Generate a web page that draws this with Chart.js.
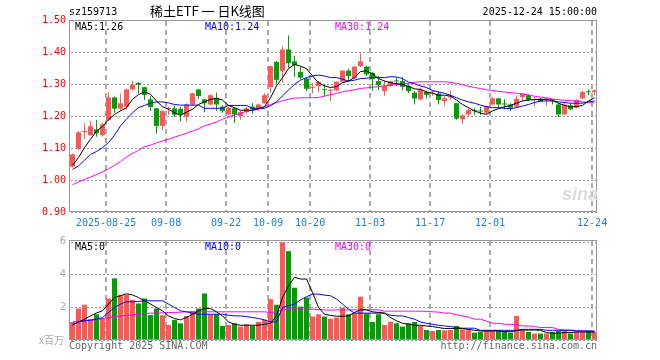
<!DOCTYPE html>
<html>
<head>
<meta charset="utf-8">
<script src="https://cdn.jsdelivr.net/npm/chart.js@4.4.1/dist/chart.umd.min.js"></script>
<style>
  body { margin: 0; background: #fff; width: 660px; height: 360px; overflow: hidden; position: relative; }
  canvas { position: absolute; left: 0; }
  #kline { top: 0; }
  #vol { top: 230px; }
  .t { position: absolute; font: 10px/12px "DejaVu Sans Mono", monospace; white-space: nowrap; }
  .cjk { font-family: "Noto Sans CJK SC", sans-serif; }
</style>
</head>
<body>
<canvas id="kline" width="660" height="232"></canvas>
<canvas id="vol" width="660" height="130"></canvas>

<div class="t" style="left:69px;top:6px;color:#000">sz159713</div>
<div class="t cjk" style="left:150px;top:3px;font-size:13px;line-height:16px;color:#000">稀土ETF 一 日K线图</div>
<div class="t" style="right:63px;top:6px;color:#000">2025-12-24 15:00:00</div>

<div class="t" style="left:75px;top:21px;color:#000">MA5:1.26</div>
<div class="t" style="left:205px;top:21px;color:#0000ff">MA10:1.24</div>
<div class="t" style="left:335px;top:21px;color:#ff00ff">MA30:1.24</div>

<div class="t" style="left:75px;top:241px;color:#000">MA5:0</div>
<div class="t" style="left:205px;top:241px;color:#0000ff">MA10:0</div>
<div class="t" style="left:335px;top:241px;color:#ff00ff">MA30:0</div>

<div class="t cjk" style="left:39px;top:334px;color:#aaa">x百万</div>
<div class="t" style="left:69px;top:340px;color:#666">Copyright 2025 SINA.COM</div>
<div class="t" style="right:63px;top:340px;color:#666">http://finance.sina.com.cn</div>
<div class="t" style="left:562px;top:184px;font:italic bold 18px/20px 'Liberation Sans',sans-serif;color:#dcdcdc">sina</div>

<script>
// daily candles, 2025-08-15 .. 2025-12-24
const opens = [1.042,1.098,1.150,1.140,1.158,1.140,1.188,1.258,1.223,1.229,1.283,1.303,1.290,1.252,1.224,1.169,1.222,1.224,1.222,1.198,
  1.236,1.283,1.252,1.236,1.257,1.229,1.205,1.224,1.200,1.212,1.229,1.221,1.240,1.291,1.369,1.341,1.408,1.371,1.338,1.317,
  1.288,1.294,1.283,1.279,1.280,1.307,1.342,1.318,1.356,1.354,1.335,1.309,1.278,1.294,1.310,1.309,1.294,1.273,1.252,1.275,
  1.274,1.270,1.247,1.258,1.240,1.190,1.205,1.217,1.217,1.210,1.236,1.255,1.238,1.236,1.229,1.259,1.265,1.250,1.254,1.251,
  1.251,1.236,1.205,1.233,1.226,1.255,1.276,1.275];
const highs = [1.083,1.152,1.177,1.184,1.188,1.177,1.275,1.261,1.270,1.286,1.310,1.306,1.291,1.262,1.225,1.218,1.229,1.233,1.228,1.240,
  1.273,1.284,1.254,1.268,1.273,1.233,1.229,1.226,1.216,1.229,1.240,1.239,1.271,1.358,1.372,1.417,1.452,1.388,1.354,1.320,
  1.302,1.309,1.299,1.285,1.308,1.344,1.348,1.356,1.396,1.358,1.337,1.325,1.312,1.310,1.320,1.320,1.299,1.278,1.289,1.280,
  1.280,1.278,1.262,1.280,1.241,1.205,1.224,1.226,1.228,1.233,1.259,1.256,1.252,1.240,1.265,1.271,1.268,1.260,1.257,1.257,
  1.252,1.240,1.240,1.240,1.252,1.278,1.283,1.283];
const lows = [1.039,1.094,1.127,1.138,1.135,1.136,1.184,1.210,1.218,1.220,1.280,1.270,1.250,1.216,1.145,1.155,1.204,1.198,1.184,1.183,
  1.232,1.254,1.212,1.233,1.216,1.210,1.202,1.177,1.188,1.207,1.207,1.216,1.238,1.273,1.301,1.304,1.351,1.323,1.315,1.278,
  1.271,1.275,1.263,1.247,1.277,1.304,1.309,1.315,1.352,1.325,1.280,1.281,1.263,1.292,1.294,1.280,1.271,1.236,1.250,1.255,
  1.263,1.236,1.233,1.250,1.188,1.174,1.200,1.202,1.203,1.205,1.233,1.226,1.221,1.216,1.226,1.247,1.247,1.231,1.244,1.231,
  1.236,1.197,1.204,1.218,1.224,1.252,1.265,1.265];
const closes = [1.080,1.149,1.152,1.168,1.146,1.174,1.258,1.223,1.240,1.283,1.298,1.298,1.266,1.228,1.169,1.215,1.223,1.204,1.205,1.236,
  1.271,1.262,1.240,1.265,1.236,1.216,1.226,1.205,1.212,1.224,1.221,1.236,1.265,1.356,1.313,1.408,1.365,1.359,1.320,1.285,
  1.290,1.306,1.281,1.281,1.307,1.342,1.325,1.354,1.371,1.330,1.315,1.297,1.294,1.309,1.308,1.291,1.278,1.255,1.283,1.266,
  1.276,1.250,1.255,1.260,1.192,1.202,1.219,1.215,1.214,1.231,1.255,1.236,1.236,1.226,1.254,1.270,1.250,1.252,1.244,1.252,
  1.249,1.205,1.236,1.221,1.250,1.275,1.274,1.280];

const ma5 = [1.046,1.070,1.101,1.127,1.153,1.167,1.188,1.205,1.216,1.226,1.252,1.267,1.275,1.268,1.247,1.229,1.221,1.210,1.202,1.212,
  1.221,1.236,1.244,1.252,1.255,1.250,1.233,1.226,1.218,1.218,1.218,1.223,1.229,1.257,1.294,1.320,1.348,1.361,1.356,1.348,
  1.325,1.304,1.294,1.289,1.292,1.304,1.309,1.320,1.339,1.341,1.332,1.317,1.309,1.304,1.301,1.299,1.292,1.285,1.283,1.275,
  1.271,1.265,1.265,1.262,1.250,1.236,1.226,1.216,1.209,1.205,1.216,1.223,1.229,1.233,1.240,1.247,1.250,1.251,1.252,1.252,
  1.249,1.240,1.233,1.229,1.229,1.233,1.247,1.257];
const ma10 = [1.033,1.044,1.062,1.080,1.089,1.101,1.117,1.140,1.169,1.190,1.210,1.226,1.233,1.240,1.244,1.244,1.241,1.236,1.234,1.234,
  1.234,1.234,1.224,1.224,1.224,1.224,1.233,1.233,1.233,1.233,1.224,1.224,1.224,1.232,1.244,1.263,1.281,1.299,1.312,1.320,
  1.325,1.328,1.325,1.320,1.320,1.315,1.309,1.312,1.317,1.318,1.320,1.320,1.320,1.323,1.322,1.317,1.306,1.301,1.294,1.289,
  1.280,1.275,1.271,1.265,1.257,1.250,1.244,1.240,1.234,1.229,1.226,1.226,1.224,1.223,1.226,1.231,1.236,1.242,1.247,1.247,
  1.247,1.244,1.242,1.240,1.240,1.240,1.244,1.247];
const ma30 = [0.985,0.994,1.002,1.009,1.017,1.025,1.035,1.046,1.058,1.072,1.083,1.093,1.104,1.109,1.116,1.122,1.127,1.134,1.140,1.146,
  1.153,1.160,1.169,1.175,1.181,1.190,1.197,1.203,1.208,1.215,1.218,1.221,1.229,1.236,1.242,1.248,1.252,1.256,1.257,1.257,
  1.257,1.258,1.262,1.267,1.270,1.276,1.279,1.282,1.286,1.288,1.290,1.292,1.294,1.296,1.298,1.300,1.302,1.305,1.307,1.307,
  1.307,1.307,1.307,1.305,1.302,1.298,1.293,1.289,1.286,1.282,1.280,1.277,1.275,1.273,1.271,1.269,1.265,1.262,1.259,1.257,
  1.253,1.251,1.249,1.248,1.247,1.244,1.243,1.243];

// volume in millions
const volumes = [1.10,1.92,2.15,1.27,1.57,1.33,2.53,3.76,2.76,2.76,2.45,2.23,2.53,1.53,1.92,1.51,0.92,1.23,1.02,1.47,
  1.76,1.92,2.84,1.55,1.59,0.86,0.92,1.02,0.82,0.96,0.86,1.10,1.23,2.49,2.15,5.97,5.42,3.19,2.04,2.59,
  1.43,1.57,1.43,1.30,1.37,1.98,1.57,1.63,2.64,1.63,1.10,1.57,0.92,1.12,1.02,0.82,1.02,1.10,0.86,0.61,
  0.55,0.61,0.59,0.61,0.86,0.65,0.65,0.45,0.49,0.55,0.55,0.55,0.55,0.45,1.47,0.59,0.49,0.39,0.39,0.39,
  0.49,0.55,0.59,0.39,0.49,0.49,0.55,0.49];
const volMa5 = [0.90,1.10,1.27,1.47,1.65,1.78,2.19,2.59,2.70,2.82,2.75,2.59,2.39,2.19,1.98,1.78,1.47,1.31,1.23,1.37,
  1.57,1.78,1.92,1.92,1.72,1.47,1.10,0.96,0.90,0.90,0.90,0.90,0.96,1.02,1.47,2.59,3.31,3.82,3.72,3.72,
  2.90,1.98,1.57,1.50,1.45,1.45,1.47,1.68,1.84,1.84,1.72,1.68,1.64,1.37,1.17,1.02,0.96,0.90,0.90,0.86,
  0.82,0.76,0.70,0.70,0.70,0.70,0.65,0.59,0.55,0.55,0.55,0.55,0.51,0.51,0.57,0.61,0.61,0.61,0.59,0.45,
  0.41,0.41,0.45,0.45,0.49,0.49,0.49,0.49];
const volMa10 = [0.96,1.10,1.17,1.21,1.27,1.37,1.68,1.98,2.19,2.33,2.33,2.35,2.39,2.39,2.39,2.39,2.19,1.98,1.78,1.72,
  1.64,1.57,1.57,1.57,1.57,1.57,1.51,1.47,1.47,1.43,1.37,1.31,1.23,1.10,1.10,1.98,2.09,2.19,2.45,2.64,
  2.80,2.80,2.74,2.70,2.50,2.19,1.88,1.64,1.64,1.64,1.64,1.64,1.64,1.51,1.47,1.47,1.37,1.27,1.10,1.02,
  0.96,0.90,0.86,0.82,0.76,0.72,0.72,0.72,0.59,0.59,0.59,0.59,0.59,0.59,0.59,0.65,0.65,0.65,0.65,0.59,
  0.59,0.59,0.59,0.59,0.55,0.55,0.55,0.53];
const volMa30 = [1.10,1.14,1.17,1.20,1.23,1.30,1.37,1.42,1.47,1.50,1.53,1.57,1.60,1.64,1.64,1.66,1.68,1.68,1.70,1.72,
  1.72,1.72,1.72,1.72,1.72,1.72,1.72,1.72,1.72,1.72,1.72,1.72,1.72,1.68,1.72,1.84,1.90,1.90,1.90,1.88,
  1.88,1.86,1.84,1.82,1.84,1.84,1.84,1.84,1.84,1.84,1.84,1.84,1.76,1.76,1.76,1.76,1.76,1.76,1.76,1.74,
  1.72,1.70,1.64,1.64,1.55,1.47,1.40,1.27,1.27,1.15,1.02,1.02,0.96,0.96,0.92,0.86,0.86,0.82,0.76,0.76,
  0.76,0.65,0.61,0.61,0.58,0.55,0.55,0.55];

const dateIdx = [6, 16, 26, 33, 40, 50, 60, 70, 87];
const dateLabels = ['2025-08-25', '09-08', '09-22', '10-09', '10-20', '11-03', '11-17', '12-01', '12-24'];
const priceTicks = [0.9, 1.0, 1.1, 1.2, 1.3, 1.4, 1.5];
const volTicks = [0, 2, 4, 6];

const RED = '#ff5656';
const GREEN = '#009f00';
const n = closes.length;
const colors = closes.map((c, i) => c >= opens[i] ? RED : GREEN);
const pts = arr => arr.map((v, i) => ({x: i, y: v}));

// dotted price lines and dashed date lines at the scales' ticks, drawn piece by piece
const gridLines = {
  id: 'gridLines',
  beforeDatasetsDraw(chart) {
    const {ctx, chartArea: a, scales: {x, y}} = chart;
    const left = Math.round(a.left), right = Math.round(a.right);
    const top = Math.round(a.top), bottom = Math.round(a.bottom);
    ctx.save();
    ctx.fillStyle = '#999';
    y.ticks.forEach(t => {
      const py = Math.round(y.getPixelForValue(t.value));
      for (let px = left + 2; px < right - 1; px += 4) ctx.fillRect(px, py, 2, 1);
    });
    ctx.fillStyle = '#aaa';
    x.ticks.forEach(t => {
      const px = Math.round(x.getPixelForValue(t.value));
      for (let py = top + 1; py < bottom; py += 9) ctx.fillRect(px - 1, py, 2, Math.min(5, bottom - py));
    });
    ctx.restore();
  },
  // grey box round the plot
  afterDatasetsDraw(chart) {
    const {ctx, chartArea: a} = chart;
    ctx.save();
    ctx.strokeStyle = '#999';
    ctx.lineWidth = 1;
    ctx.strokeRect(Math.round(a.left) + 0.5, Math.round(a.top) + 0.5, Math.round(a.width) - 1, Math.round(a.height) - 1);
    ctx.restore();
  }
};

function xAxis(showLabels) {
  return {
    type: 'linear',
    min: -0.5 - 1 / 12,
    max: n - 0.5 - 1 / 12,
    offset: false,
    afterBuildTicks: s => { s.ticks = dateIdx.map(v => ({value: v - 0.4})); },
    afterFit: s => { s.height = 20; },
    grid: {display: false, drawTicks: false},
    border: {display: false},
    ticks: {
      display: showLabels, autoSkip: false, maxRotation: 0, padding: 5,
      color: '#1a7fd4', font: {family: 'DejaVu Sans Mono', size: 10},
      callback: (v, i) => dateLabels[i]
    }
  };
}

function maLine(data, color) {
  return {type: 'line', data: pts(data), borderColor: color, borderWidth: 1, pointRadius: 0, tension: 0, order: 0};
}

const common = {
  responsive: false,
  animation: false,
  events: [],
  plugins: {legend: {display: false}, tooltip: {enabled: false}}
};

new Chart(document.getElementById('kline'), {
  type: 'bar',
  data: {
    datasets: [
      maLine(ma5, '#000000'),
      maLine(ma10, '#0000ff'),
      maLine(ma30, '#ff00ff'),
      {
        data: opens.map((o, i) => ({x: i, y: [o, closes[i]]})),
        backgroundColor: colors, barThickness: 5, minBarLength: 1,
        grouped: false, inflateAmount: 0, borderWidth: 0, order: 1
      },
      {
        data: lows.map((l, i) => ({x: i, y: [l, highs[i]]})),
        backgroundColor: colors, barThickness: 1,
        grouped: false, inflateAmount: 0, borderWidth: 0, order: 2
      }
    ]
  },
  options: {
    ...common,
    layout: {padding: {left: 0, right: 63, top: 20, bottom: 0}},
    scales: {
      x: xAxis(true),
      y: {
        min: 0.9, max: 1.5, beginAtZero: false,
        afterBuildTicks: s => { s.ticks = priceTicks.map(v => ({value: v})); },
        afterFit: s => { s.width = 69; },
        grid: {display: false, drawTicks: false},
        border: {display: false},
        ticks: {padding: 3, color: '#ff0000', font: {family: 'DejaVu Sans Mono', size: 10}, callback: v => v.toFixed(2)}
      }
    }
  },
  plugins: [gridLines]
});

new Chart(document.getElementById('vol'), {
  type: 'bar',
  data: {
    datasets: [
      maLine(volMa5, '#000000'),
      maLine(volMa10, '#0000ff'),
      maLine(volMa30, '#ff00ff'),
      {
        data: pts(volumes),
        backgroundColor: colors, barThickness: 5,
        grouped: false, inflateAmount: 0, borderWidth: 0, order: 1
      }
    ]
  },
  options: {
    ...common,
    layout: {padding: {left: 0, right: 63, top: 10, bottom: 0}},
    scales: {
      x: xAxis(false),
      y: {
        min: 0, max: 6.1,
        afterBuildTicks: s => { s.ticks = volTicks.map(v => ({value: v})); },
        afterFit: s => { s.width = 69; },
        grid: {display: false, drawTicks: false},
        border: {display: false},
        ticks: {padding: 3, color: '#aaa', font: {family: 'DejaVu Sans', size: 10}, callback: v => v === 0 ? '' : String(v)}
      }
    }
  },
  plugins: [gridLines]
});
</script>
</body>
</html>
